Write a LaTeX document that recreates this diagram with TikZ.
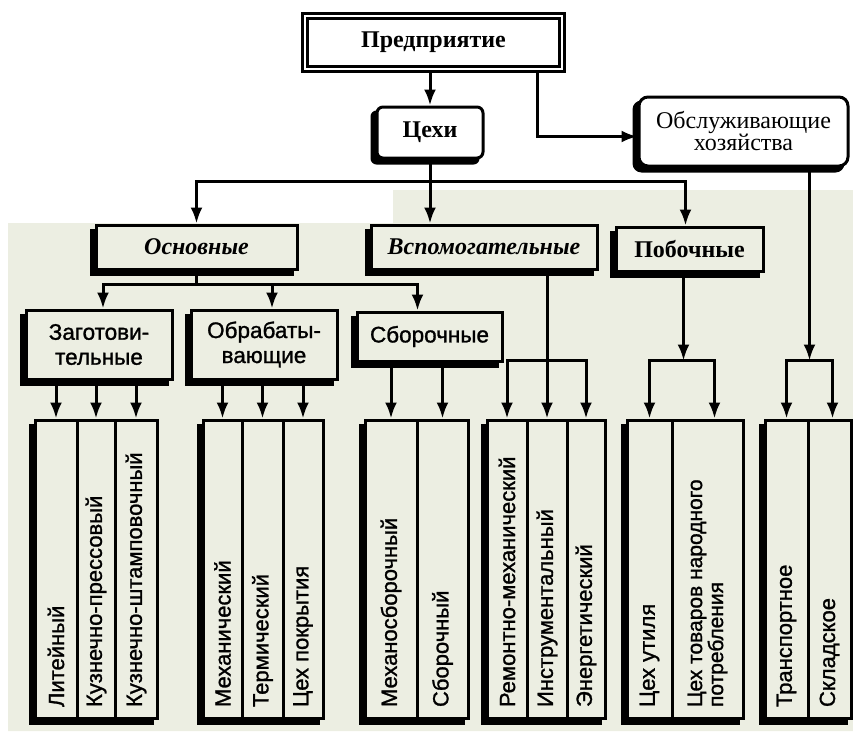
\documentclass[tikz,border=0pt]{standalone}
\usepackage{fontspec}
\setmainfont{Liberation Serif}
\setsansfont{Liberation Sans}[FakeBold=1.2]
\usetikzlibrary{arrows.meta,calc}
\pgfdeclarelayer{bgl}
\pgfdeclarelayer{shl}
\pgfsetlayers{bgl,shl,main}
\definecolor{bg}{RGB}{236,238,226}
\newcommand{\vtext}[1]{\rotatebox{90}{\makebox[276pt][l]{#1}}}
\newcommand{\vtwo}[1]{\rotatebox{90}{\parbox{276pt}{\raggedright #1}}}
\begin{document}
\begin{tikzpicture}[x=1pt,y=-1pt,
  every path/.style={line width=3pt},
  arr/.style={-{Latex[length=16pt,width=12pt]}},
  box/.style={draw, line width=3pt, inner sep=0, fill=bg, align=center},
  serifbox/.style={box, font=\fontsize{24}{22}\selectfont\bfseries},
  sansbox/.style={box, font=\sffamily\fontsize{22.5}{25}\selectfont},
  col/.style={draw, line width=3pt, fill=bg, inner sep=0, minimum height=298,
              font=\sffamily\fontsize{22}{22}\selectfont},
  shade/.style={fill=black}]
\useasboundingbox (0,0) rectangle (853,731);
\begin{pgfonlayer}{bgl}
  \fill[white] (0,0) rectangle (853,731);
  \fill[bg] (393,190) -- (853,190) -- (853,731) -- (8,731) -- (8,223) -- (393,223) -- cycle;
\end{pgfonlayer}

% top level
\node[serifbox, fill=white, minimum width=257, minimum height=53,
      line width=3.2pt, double=white, double distance=1.4pt] (pred) at (433.5,42.5) {Предприятие};
\node[serifbox, fill=white, rounded corners=6, minimum width=106, minimum height=51] (cexi) at (430,132.5) {Цехи};
\node[box, fill=white, rounded corners=9, minimum width=209, minimum height=69,
      font=\fontsize{24}{22}\selectfont] (obs) at (743.5,131.5) {Обслуживающие\\хозяйства};

% second level
\node[serifbox, minimum width=201, minimum height=44, font=\fontsize{24}{22}\selectfont\bfseries\itshape] (osn) at (196.5,247) {Основные};
\node[serifbox, minimum width=226, minimum height=44, font=\fontsize{24}{22}\selectfont\bfseries\itshape] (vsp) at (484,247) {Вспомогательные};
\node[serifbox, minimum width=147, minimum height=44] (pob) at (689.5,249) {Побочные};

% third level
\node[sansbox, minimum width=146, minimum height=69] (zag) at (99,344.5) {Заготови-\\тельные};
\node[sansbox, minimum width=146, minimum height=69] (obr) at (264,344.5) {Обрабаты-\\вающие};
\node[sansbox, minimum width=145, minimum height=49] (sbo) at (429.5,336.5) {Сборочные};

% columns
\node[col, minimum width=42] (c11) at (56,569) {\vtext{Литейный}};
\node[col, minimum width=38] (c12) at (96,569) {\vtext{Кузнечно-прессовый}};
\node[col, minimum width=42] (c13) at (136,569) {\vtext{Кузнечно-штамповочный}};
\node[col, minimum width=39] (c21) at (222.5,569) {\vtext{Механический}};
\node[col, minimum width=41] (c22) at (262.5,569) {\vtext{Термический}};
\node[col, minimum width=40] (c23) at (303,569) {\vtext{Цех покрытия}};
\node[col, minimum width=52] (c31) at (391,569) {\vtext{Механосборочный}};
\node[col, minimum width=51] (c32) at (442.5,569) {\vtext{Сборочный}};
\node[col, minimum width=40] (c41) at (507,569) {\vtext{Ремонтно-механический}};
\node[col, minimum width=40] (c42) at (547,569) {\vtext{Инструментальный}};
\node[col, minimum width=38] (c43) at (586,569) {\vtext{Энергетический}};
\node[col, minimum width=45] (c51) at (649.5,569) {\vtext{Цех утиля}};
\node[col, minimum width=71, font=\sffamily\fontsize{21}{21}\selectfont] (c52) at (707.5,569) {\vtwo{Цех товаров народного\\потребления}};
\node[col, minimum width=43] (c61) at (786.5,569) {\vtext{Транспортное}};
\node[col, minimum width=43] (c62) at (829.5,569) {\vtext{Складское}};

% shadows
\begin{pgfonlayer}{shl}
  \fill[shade, rounded corners=6] ([shift={(-5,5)}]cexi.south west) rectangle ([shift={(-5,5)}]cexi.north east);
  \fill[shade, rounded corners=9] ([shift={(-5,5)}]obs.south west) rectangle ([shift={(-5,5)}]obs.north east);
  \foreach \n in {osn,vsp,pob,zag,obr,sbo}{
    \fill[shade] ([shift={(-5,5)}]\n.south west) rectangle ([shift={(-5,5)}]\n.north east);
  }
  \fill[shade] ([shift={(-5,5)}]c11.south west) rectangle ([shift={(-5,5)}]c13.north east);
  \fill[shade] ([shift={(-5,5)}]c21.south west) rectangle ([shift={(-5,5)}]c23.north east);
  \fill[shade] ([shift={(-5,5)}]c31.south west) rectangle ([shift={(-5,5)}]c32.north east);
  \fill[shade] ([shift={(-5,5)}]c41.south west) rectangle ([shift={(-5,5)}]c43.north east);
  \fill[shade] ([shift={(-5,5)}]c51.south west) rectangle ([shift={(-5,5)}]c52.north east);
  \fill[shade] ([shift={(-5,5)}]c61.south west) rectangle ([shift={(-5,5)}]c62.north east);
\end{pgfonlayer}

% connectors, top
\draw[arr] (cexi.north |- pred.south) -- (cexi.north);
\draw[arr] ([xshift=-26pt]pred.south east) |- ([yshift=-5pt]obs.west);
\coordinate (bus1) at ($(cexi.south)+(0,22)$);
\draw[arr] (cexi.south) -- (cexi.south |- vsp.north);
\draw[arr] (bus1) -| (osn.north);
\draw[arr] (bus1) -| ([xshift=-4pt]pob.north);

% Основные
\coordinate (bus2) at ($(osn.south)+(0,14)$);
\draw (osn.south) -- (bus2);
\draw[arr] (bus2) -| ([xshift=4pt]zag.north);
\draw[arr] (bus2) -| ([xshift=8pt]obr.north);
\draw[arr] (bus2) -| ([xshift=-12pt]sbo.north);

% third level to columns
\foreach \c/\p in {c11/zag,c12/zag,c13/zag,c21/obr,c22/obr,c23/obr,c31/sbo,c32/sbo}{
  \draw[arr] (\c.north |- \p.south) -- (\c.north);
}

% Вспомогательные
\coordinate (b4) at ($(c42.north)+(0,-58)$);
\draw (vsp.south -| b4) -- (b4);
\draw[arr] (b4) -| (c41.north);
\draw[arr] (b4) -- (c42.north);
\draw[arr] (b4) -| (c43.north);

% Побочные
\coordinate (p5) at ([xshift=-6pt]pob.south);
\coordinate (b5) at (p5 |- b4);
\draw[arr] (p5) -- (b5);
\draw[arr] (b5) -| (c51.north);
\draw[arr] (b5) -| ([xshift=7pt]c52.north);

% Обслуживающие
\coordinate (p6) at ([xshift=66pt]obs.south);
\coordinate (b6) at (p6 |- b4);
\draw[arr] (p6) -- (b6);
\draw[arr] (b6) -| (c61.north);
\draw[arr] (b6) -| ([xshift=3pt]c62.north);
\end{tikzpicture}
\end{document}
